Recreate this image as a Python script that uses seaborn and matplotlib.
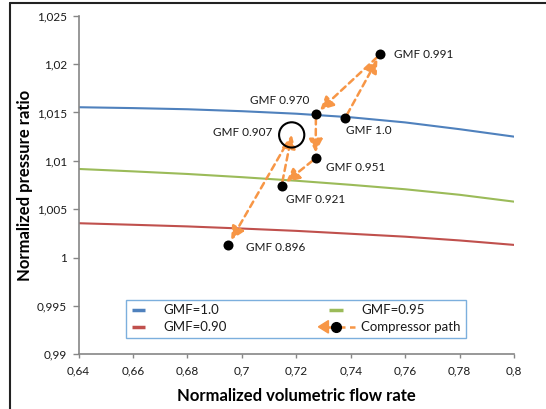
import matplotlib
matplotlib.use("Agg")
import numpy as np
import pandas as pd
import matplotlib.pyplot as plt
import seaborn as sns
from matplotlib.lines import Line2D
from matplotlib.patches import Polygon
from matplotlib.legend_handler import HandlerBase
from matplotlib.ticker import FuncFormatter, MultipleLocator

# ---------------- data ----------------
flow = [0.64, 0.66, 0.68, 0.70, 0.72, 0.74, 0.76, 0.78, 0.80]
gmf_100 = [1.01554, 1.01545, 1.01533, 1.01513, 1.01487, 1.01450, 1.01397, 1.01327, 1.01250]
gmf_095 = [1.00916, 1.00891, 1.00864, 1.00831, 1.00794, 1.00752, 1.00706, 1.00649, 1.00578]
gmf_090 = [1.00355, 1.00339, 1.00322, 1.00300, 1.00276, 1.00246, 1.00216, 1.00177, 1.00131]
series_names = ["GMF=1.0", "GMF=0.95", "GMF=0.90"]

path_labels = ["GMF 1.0", "GMF 0.991", "GMF 0.970", "GMF 0.951", "GMF 0.921", "GMF 0.907", "GMF 0.896"]
path_x = [0.7379, 0.7508, 0.7272, 0.7271, 0.7146, 0.7183, 0.6950]
path_y = [1.01440, 1.02100, 1.01484, 1.01027, 1.00744, 1.01268, 1.00131]

xticks_step = 0.02
yticks_step = 0.005

# ---------------- style ----------------
sns.set_theme(style="white")
plt.rcParams["font.family"] = ["Lato", "DejaVu Sans"]

blue, green, red, orange = "#4F81BD", "#9BBB59", "#C0504D", "#F79646"
palette = {"GMF=1.0": blue, "GMF=0.95": green, "GMF=0.90": red}

df = pd.DataFrame({
    "flow": flow * 3,
    "ratio": gmf_100 + gmf_095 + gmf_090,
    "series": sum([[n] * len(flow) for n in series_names], []),
})
pts = pd.DataFrame({"x": path_x, "y": path_y, "label": path_labels})

fig = plt.figure(figsize=(5.46, 4.09), dpi=100)
ax = fig.add_axes([0.144, 0.1337, 0.7974, 0.8279])

sns.lineplot(data=df, x="flow", y="ratio", hue="series", palette=palette,
             linewidth=1.5, ax=ax, legend=False, zorder=2)

# arrows along compressor path
for i in range(len(pts) - 1):
    a = (pts.x[i], pts.y[i])
    b = (pts.x[i + 1], pts.y[i + 1])
    sa = 9 if pts.label[i] == "GMF 0.907" else 3
    sb = 0 if pts.label[i + 1] == "GMF 0.907" else 4
    ax.annotate("", xy=b, xytext=a,
                arrowprops=dict(arrowstyle="-|>,head_length=0.8,head_width=0.4",
                                color=orange, lw=1.8, ls=(0, (2.5, 1.8)),
                                shrinkA=sa, shrinkB=sb, mutation_scale=10),
                zorder=3)

solid = pts[pts.label != "GMF 0.907"]
circ = pts[pts.label == "GMF 0.907"]
sns.scatterplot(data=solid, x="x", y="y", color="black", s=52, edgecolor="black",
                linewidth=0, ax=ax, zorder=4)
sns.scatterplot(data=circ, x="x", y="y", s=330, facecolor="none", edgecolor="black",
                linewidth=1.5, ax=ax, zorder=4)

label_style = {
    "GMF 1.0": ((0.7, -8.6), "left"),
    "GMF 0.991": ((10, 0), "left"),
    "GMF 0.970": ((-5, 10), "right"),
    "GMF 0.951": ((7.2, -7), "left"),
    "GMF 0.921": ((3, -10.3), "left"),
    "GMF 0.907": ((-14, 2), "right"),
    "GMF 0.896": ((12.7, -1.7), "left"),
}
for lx, ly, lab in zip(path_x, path_y, path_labels):
    off, ha = label_style[lab]
    ax.annotate(lab, (lx, ly), xytext=off, textcoords="offset points",
                ha=ha, va="center", fontsize=8.5, color="#1a1a1a")

ax.set_xlim(0.64, 0.80)
ax.set_ylim(0.99, 1.025)
ax.xaxis.set_major_locator(MultipleLocator(xticks_step))
ax.yaxis.set_major_locator(MultipleLocator(yticks_step))
fmt = FuncFormatter(lambda v, p: f"{round(v, 4):g}".replace(".", ","))
ax.xaxis.set_major_formatter(fmt)
ax.yaxis.set_major_formatter(fmt)

for s in ["top", "right"]:
    ax.spines[s].set_visible(False)
for s in ["left", "bottom"]:
    ax.spines[s].set_color("#868686")
    ax.spines[s].set_linewidth(1.2)
ax.tick_params(axis="x", direction="out", length=3, width=1, color="#868686",
               labelsize=8.5, labelcolor="#1a1a1a", pad=5, bottom=True)
ax.tick_params(axis="y", direction="out", length=4.5, width=1, color="#868686",
               labelsize=8.5, labelcolor="#1a1a1a", pad=4, left=True)

ax.set_xlabel("Normalized volumetric flow rate", fontsize=12, fontweight="bold",
              color="black", labelpad=8.5)
ax.set_ylabel("Normalized pressure ratio", fontsize=12, fontweight="bold",
              color="black", labelpad=3)


# ---------------- legend ----------------
class ShortLine(HandlerBase):
    def create_artists(self, legend, orig, xd, yd, w, h, fs, trans):
        y = h / 2 - yd
        cx = -xd + w * 0.3
        ln = Line2D([cx - 5, cx + 5], [y, y], color=orig.get_color(), lw=2.5,
                    solid_capstyle="butt", transform=trans)
        return [ln]


class PathHandle(HandlerBase):
    def create_artists(self, legend, orig, xd, yd, w, h, fs, trans):
        y = h / 2 - yd
        x0 = -xd
        ln = Line2D([x0, x0 + w], [y, y], color=orange, lw=1.8,
                    ls=(0, (2.5, 1.8)), transform=trans)
        tri = Polygon([[x0 - 0.38 * w, y], [x0, y + 4.5], [x0, y - 4.5]],
                      closed=True, facecolor=orange, edgecolor=orange, transform=trans)
        dot = Line2D([x0 + 0.3 * w], [y], marker="o", color="black", ms=7,
                     ls="none", transform=trans)
        return [ln, tri, dot]


h1 = Line2D([], [], color=blue)
h2 = Line2D([], [], color=red)
h3 = Line2D([], [], color=green)
h4 = Line2D([], [], color=orange)
leg = ax.legend([h1, h2, h3, h4], ["GMF=1.0", "GMF=0.90", "GMF=0.95", "Compressor path"],
                handler_map={h1: ShortLine(), h2: ShortLine(), h3: ShortLine(), h4: PathHandle()},
                ncol=2, mode="expand", loc="lower left",
                bbox_to_anchor=(0.1087, 0.048, 0.78, 0.13),
                fontsize=9.5, frameon=True, fancybox=False, shadow=False,
                handlelength=2.0, handletextpad=0.5, borderpad=0.35,
                labelspacing=0.4, borderaxespad=0)
leg.get_frame().set_edgecolor("#5B9BD5")
leg.get_frame().set_linewidth(1.0)
for t in leg.get_texts():
    t.set_color("#1a1a1a")

# outer figure frame (left and top edges visible)
fig.add_artist(Line2D([10 / 546, 10 / 546], [0, 1 - 3 / 409], color="#222222", lw=1.5))
fig.add_artist(Line2D([10 / 546, 1], [1 - 3 / 409, 1 - 3 / 409], color="#222222", lw=1.5))

fig.savefig("out.png", dpi=100)
